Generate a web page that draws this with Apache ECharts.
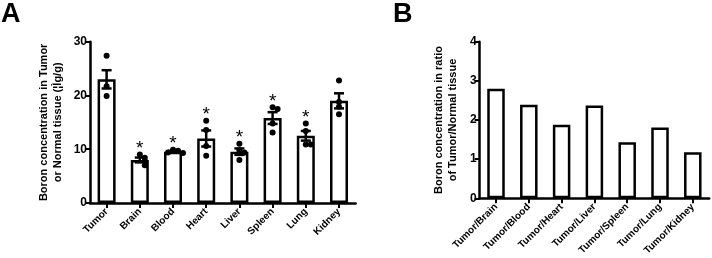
<!DOCTYPE html>
<html>
<head>
<meta charset="utf-8">
<script src="https://cdn.jsdelivr.net/npm/echarts@6/dist/echarts.min.js"></script>
<style>
  html, body { margin: 0; padding: 0; background: #fff; }
  #main { width: 712px; height: 258px; }
</style>
</head>
<body>
<div id="main"></div>
<script>
// panel A: boron concentration per tissue
const tissues = ["Tumor", "Brain", "Blood", "Heart", "Liver", "Spleen", "Lung", "Kidney"];
const means = [23.0, 8.0, 9.55, 12.0, 9.55, 15.8, 12.5, 19.0];
const sems = [1.7, 0.45, 0.15, 1.5, 0.6, 1.1, 0.9, 1.4];
const significant = [false, true, true, true, true, true, true, false];

const ptsTumor = [27.4, 21.7, 19.9];
const ptsBrain = [9.0, 8.4, 7.8, 7.0];
const ptsBlood = [9.9, 9.7, 9.4, 9.3];
const ptsHeart = [15.3, 13.6, 10.6, 8.8];
const ptsLiver = [11.0, 9.8, 9.4, 8.0];
const ptsSpleen = [17.8, 17.5, 14.8, 13.1];
const ptsLung = [14.8, 13.4, 10.9, 10.9];
const ptsKidney = [22.8, 18.8, 17.9, 16.5];
const groupPoints = [ptsTumor, ptsBrain, ptsBlood, ptsHeart, ptsLiver, ptsSpleen, ptsLung, ptsKidney];

const yTicksA = [0, 10, 20, 30];

// panel B: tumor / normal tissue ratio
const ratioLabels = ["Tumor/Brain", "Tumor/Blood", "Tumor/Heart", "Tumor/Liver", "Tumor/Spleen", "Tumor/Lung", "Tumor/Kidney"];
const ratios = [2.80, 2.39, 1.88, 2.37, 1.43, 1.81, 1.18];
const yTicksB = [0, 1, 2, 3, 4];

const FONT = "Liberation Sans";

// spread dots that sit close together
let dotData = [];
groupPoints.forEach(function (pts, i) {
  pts.forEach(function (v, k) {
    let near = 0;
    for (let j = 0; j < k; j++) {
      if (Math.abs(pts[j] - v) < 0.9) near++;
    }
    let dx = near === 0 ? 0 : (near % 2 ? 5 : -5) * Math.ceil(near / 2);
    dotData.push({ value: [i, v], symbolOffset: [dx, 0] });
  });
});

const errData = means.map(function (m, i) { return [i, m, sems[i]]; });
const starData = [];
groupPoints.forEach(function (pts, i) {
  if (significant[i]) starData.push([i, Math.max.apply(null, pts)]);
});

const axisLine = { show: true, lineStyle: { color: "#000", width: 2.5 } };
const axisTick = { show: true, inside: false, length: 5, lineStyle: { color: "#000", width: 2 } };

const myChart = echarts.init(document.getElementById("main"));
let option = {
  animation: false,
  backgroundColor: "#fff",
  graphic: [
    { type: "text", left: 1, top: 1, style: { text: "A", font: "bold 27px " + FONT, fill: "#000" } },
    { type: "text", left: 393, top: 1, style: { text: "B", font: "bold 27px " + FONT, fill: "#000" } },
  ],
  grid: [
    { left: 90, top: 41.7, width: 265.6, height: 161.3 },
    { left: 479.6, top: 41.7, width: 229.6, height: 161.3 },
  ],
  xAxis: [
    {
      gridIndex: 0,
      type: "category",
      data: tissues,
      axisLine: axisLine,
      axisTick: Object.assign({ alignWithLabel: true }, axisTick),
      axisLabel: { rotate: 45, fontFamily: FONT, fontWeight: "bold", fontSize: 10, color: "#000", margin: 7 },
    },
    {
      gridIndex: 1,
      type: "category",
      data: ratioLabels,
      axisLine: axisLine,
      axisTick: Object.assign({ alignWithLabel: true }, axisTick),
      axisLabel: { rotate: 45, fontFamily: FONT, fontWeight: "bold", fontSize: 10, color: "#000", margin: 7 },
    },
  ],
  yAxis: [
    {
      gridIndex: 0,
      type: "value",
      min: yTicksA[0],
      max: yTicksA[yTicksA.length - 1],
      interval: 10,
      axisLine: axisLine,
      axisTick: axisTick,
      splitLine: { show: false },
      axisLabel: { fontFamily: FONT, fontWeight: "bold", fontSize: 12, color: "#000", margin: 3 },
      name: "Boron concentration in Tumor\nor Normal tissue (¦Ìg/g)",
      nameLocation: "middle",
      nameGap: 25,
      nameMoveOverlap: false,
      nameTextStyle: { fontFamily: FONT, fontWeight: "bold", fontSize: 11, color: "#000", lineHeight: 14 },
    },
    {
      gridIndex: 1,
      type: "value",
      min: yTicksB[0],
      max: yTicksB[yTicksB.length - 1],
      interval: 1,
      axisLine: axisLine,
      axisTick: axisTick,
      splitLine: { show: false },
      axisLabel: { fontFamily: FONT, fontWeight: "bold", fontSize: 12, color: "#000", margin: 3 },
      name: "Boron concentration in ratio\nof Tumor/Normal tissue",
      nameLocation: "middle",
      nameGap: 20,
      nameMoveOverlap: false,
      nameTextStyle: { fontFamily: FONT, fontWeight: "bold", fontSize: 11, color: "#000", lineHeight: 14 },
    },
  ],
  series: [
    {
      type: "bar",
      xAxisIndex: 0,
      yAxisIndex: 0,
      data: means,
      barWidth: 18,
      itemStyle: { color: "#fff", borderColor: "#000", borderWidth: 2.5 },
      z: 1,
    },
    {
      type: "custom",
      xAxisIndex: 0,
      yAxisIndex: 0,
      data: errData,
      z: 3,
      renderItem: function (params, api) {
        const x = api.value(0), m = api.value(1), s = api.value(2);
        const top = api.coord([x, m + s]);
        const bot = api.coord([x, m - s]);
        const hw = 5;
        const st = { stroke: "#000", lineWidth: 2.5 };
        return {
          type: "group",
          children: [
            { type: "line", shape: { x1: top[0], y1: top[1], x2: bot[0], y2: bot[1] }, style: st },
            { type: "line", shape: { x1: top[0] - hw, y1: top[1], x2: top[0] + hw, y2: top[1] }, style: st },
            { type: "line", shape: { x1: bot[0] - hw, y1: bot[1], x2: bot[0] + hw, y2: bot[1] }, style: st },
          ],
        };
      },
    },
    {
      type: "scatter",
      xAxisIndex: 0,
      yAxisIndex: 0,
      data: dotData,
      symbol: "circle",
      symbolSize: 6,
      itemStyle: { color: "#000", opacity: 1 },
      z: 4,
    },
    {
      type: "custom",
      xAxisIndex: 0,
      yAxisIndex: 0,
      data: starData,
      z: 4,
      renderItem: function (params, api) {
        const p = api.coord([api.value(0), api.value(1)]);
        return {
          type: "text",
          x: p[0],
          y: p[1] - 6,
          style: { text: "*", font: "19px " + FONT, fill: "#000", textAlign: "center", textVerticalAlign: "middle" },
        };
      },
    },
    {
      type: "bar",
      xAxisIndex: 1,
      yAxisIndex: 1,
      data: ratios,
      barWidth: 17.5,
      itemStyle: { color: "#fff", borderColor: "#000", borderWidth: 2.5 },
    },
  ],
};
option && myChart.setOption(option);
</script>
</body>
</html>
